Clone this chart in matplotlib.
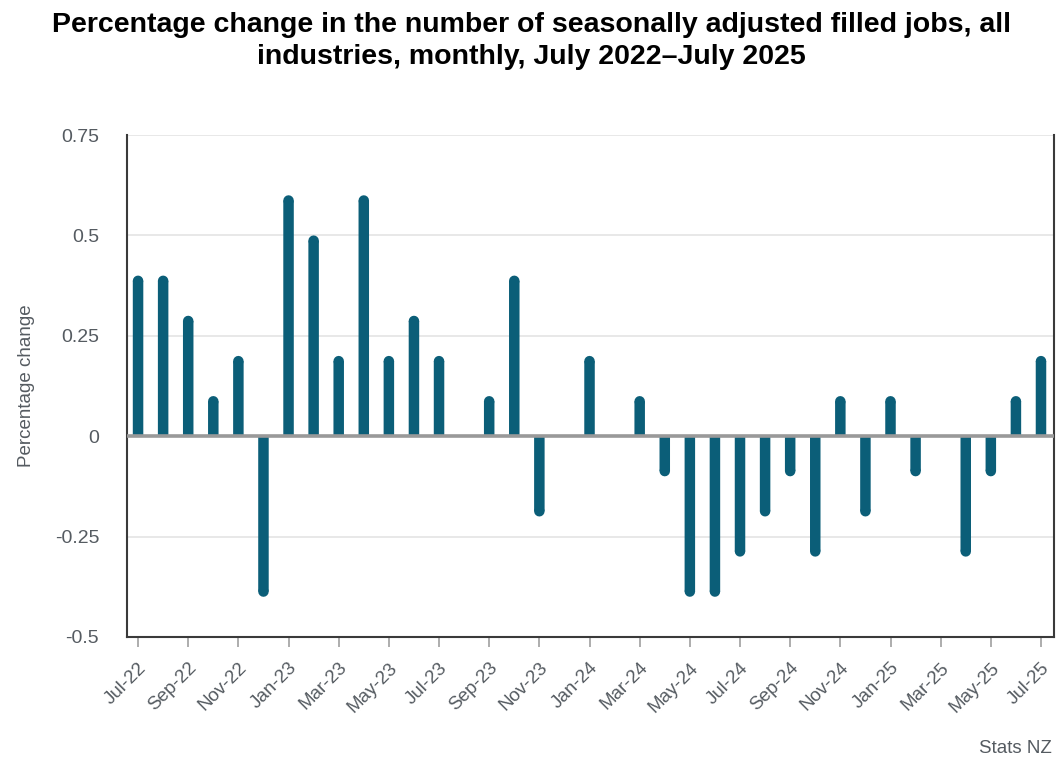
import numpy as np
import matplotlib
matplotlib.use('Agg')
import matplotlib.pyplot as plt

plt.rcParams['font.family'] = ['Liberation Sans', 'DejaVu Sans']

# Monthly percentage change, Jul-22 .. Jul-25
months = ['Jul-22', 'Aug-22', 'Sep-22', 'Oct-22', 'Nov-22', 'Dec-22',
          'Jan-23', 'Feb-23', 'Mar-23', 'Apr-23', 'May-23', 'Jun-23',
          'Jul-23', 'Aug-23', 'Sep-23', 'Oct-23', 'Nov-23', 'Dec-23',
          'Jan-24', 'Feb-24', 'Mar-24', 'Apr-24', 'May-24', 'Jun-24',
          'Jul-24', 'Aug-24', 'Sep-24', 'Oct-24', 'Nov-24', 'Dec-24',
          'Jan-25', 'Feb-25', 'Mar-25', 'Apr-25', 'May-25', 'Jun-25',
          'Jul-25']
pct_change = [0.4, 0.4, 0.3, 0.1, 0.2, -0.4,
              0.6, 0.5, 0.2, 0.6, 0.2, 0.3,
              0.2, 0.0, 0.1, 0.4, -0.2, 0.0,
              0.2, 0.0, 0.1, -0.1, -0.4, -0.4,
              -0.3, -0.2, -0.1, -0.3, 0.1, -0.2,
              0.1, -0.1, 0.0, -0.3, -0.1, 0.1,
              0.2]
y_ticks = [-0.5, -0.25, 0, 0.25, 0.5, 0.75]
y_tick_labels = ['-0.5', '-0.25', '0', '0.25', '0.5', '0.75']

BAR_COLOR = '#0b5e78'
TEXT_GREY = '#555b61'

fig = plt.figure(figsize=(10.62, 7.68), dpi=100)
ax = fig.add_axes([0.1196, 0.1706, 0.8729, 0.6536])

x = np.arange(len(months))
ax.set_xlim(-0.44, len(months) - 1 + 0.52)
ax.set_ylim(-0.5, 0.75)

# bars ~10.5 px wide, flat at zero, round cap at the far end
bar_px = 10.5
bar_lw = bar_px * 72 / 100
px_per_unit = ax.get_position().height * 768 / 1.25
cap_r = (bar_px / 2) / px_per_unit

for xi, v in zip(x, pct_change):
    if v == 0:
        continue
    body_end = v - np.sign(v) * cap_r
    ax.plot([xi, xi], [0, body_end], color=BAR_COLOR, lw=bar_lw,
            solid_capstyle='butt', snap=False, zorder=3)
    ax.plot([xi, xi], [body_end - np.sign(v) * 1e-4, body_end], color=BAR_COLOR,
            lw=bar_lw, solid_capstyle='round', snap=False, zorder=3)

# grid and zero line
for yt in y_ticks:
    if yt != 0:
        ax.axhline(yt, color='#e4e4e4', linewidth=1.2, zorder=1)
ax.axhline(0, color='#999999', linewidth=2.6, zorder=4)

ax.set_yticks(y_ticks)
ax.set_yticklabels(y_tick_labels)
ax.set_xticks(x[::2])
ax.set_xticklabels(months[::2], rotation=45, ha='right', rotation_mode='anchor')

ax.tick_params(axis='y', length=0, pad=20, labelsize=14, labelcolor=TEXT_GREY)
ax.tick_params(axis='x', length=7, width=1.2, color='#a0a0a0', pad=9,
               labelsize=13.5, labelcolor=TEXT_GREY)

for side in ['left', 'bottom', 'right']:
    ax.spines[side].set_color('#3a3a3a')
    ax.spines[side].set_linewidth(1.5)
ax.spines['top'].set_visible(False)

ax.set_ylabel('Percentage change', fontsize=13.5, color=TEXT_GREY, labelpad=14)

fig.text(0.5, 0.985, 'Percentage change in the number of seasonally adjusted filled jobs, all\n'
         'industries, monthly, July 2022\u2013July 2025',
         ha='center', va='top', fontsize=20.5, fontweight='bold',
         linespacing=1.3)
fig.text(0.99, 0.026, 'Stats NZ', ha='right', va='center', fontsize=13.5, color=TEXT_GREY)

plt.savefig('out.png', dpi=100)
